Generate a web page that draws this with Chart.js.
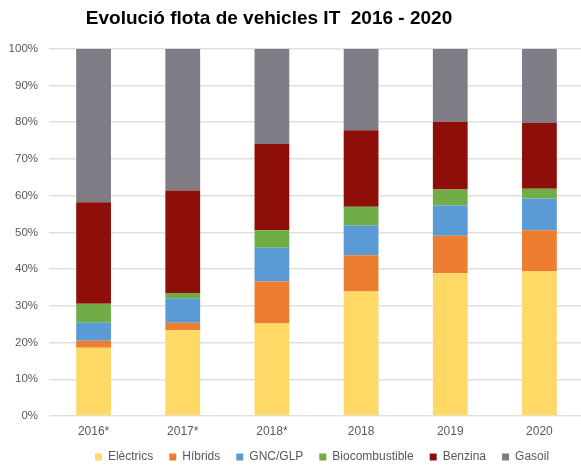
<!DOCTYPE html>
<html>
<head>
<meta charset="utf-8">
<script src="https://cdn.jsdelivr.net/npm/chart.js@4.4.1/dist/chart.umd.min.js"></script>
<style>
  html, body { margin: 0; padding: 0; background: #fff; overflow: hidden; }
  #wrap { position: relative; width: 585px; height: 466px; }
</style>
</head>
<body>
<div id="wrap"><canvas id="c" width="585" height="466"></canvas></div>
<script>
const categories = ['2016*', '2017*', '2018*', '2018', '2019', '2020'];
const seriesNames = ['Elèctrics', 'Híbrids', 'GNC/GLP', 'Biocombustible', 'Benzina', 'Gasoil'];
const electrics      = [18.6, 23.4, 25.2, 33.9, 38.9, 39.5];
const hibrids        = [1.9, 2.0, 11.4, 9.9, 10.2, 11.1];
const gnc            = [4.9, 6.5, 9.2, 8.1, 8.2, 8.6];
const biocombustible = [5.2, 1.6, 4.8, 5.1, 4.4, 2.7];
const benzina        = [27.6, 27.9, 23.5, 20.8, 18.4, 17.9];
const gasoil         = [41.8, 38.6, 25.9, 22.2, 19.9, 20.2];
const yTicks = [0, 10, 20, 30, 40, 50, 60, 70, 80, 90, 100];

const colors = ['#FFD966', '#ED7D31', '#5B9BD5', '#70AD47', '#8E0F0A', '#7F7C85'];
const seriesData = [electrics, hibrids, gnc, biocombustible, benzina, gasoil];

const FONT = "'Liberation Sans', Arial, Helvetica, sans-serif";
const TITLE_DX = -27;
const LEG_DX = 26;
const LEG_DY = -3;
const LEGEND_H = 28;

const layoutTweak = {
  id: 'layoutTweak',
  beforeLayout(chart) {
    const lg = chart.legend;
    if (lg && !lg._patched) {
      const fit = lg.fit.bind(lg);
      lg.fit = function () { fit(); this.height = LEGEND_H; };
      lg._patched = true;
    }
  },
  afterLayout(chart) {
    const t = chart.titleBlock;
    if (t) { t.left += TITLE_DX; t.right += TITLE_DX; }
    const lg = chart.legend;
    if (lg) {
      lg.left += LEG_DX; lg.right += LEG_DX;
      lg.top += LEG_DY; lg.bottom = chart.height;
    }
  }
};

new Chart(document.getElementById('c'), {
  type: 'bar',
  data: {
    labels: categories,
    datasets: seriesNames.map((n, i) => ({
      label: n,
      data: seriesData[i],
      backgroundColor: colors[i],
      borderWidth: 0,
      barPercentage: 0.39,
      categoryPercentage: 1.0
    }))
  },
  plugins: [layoutTweak],
  options: {
    responsive: false,
    animation: false,
    layout: { padding: { left: 8, right: 1, top: 0, bottom: 0 } },
    plugins: {
      title: {
        display: true,
        text: 'Evolució flota de vehicles IT  2016 - 2020',
        color: '#000',
        font: { family: FONT, size: 19, weight: 'bold', lineHeight: 1.2 },
        padding: { top: 7, bottom: 19 }
      },
      legend: {
        display: true,
        position: 'bottom',
        labels: {
          boxWidth: 7,
          boxHeight: 7,
          padding: 16,
          color: '#595959',
          font: { family: FONT, size: 12 }
        }
      },
      tooltip: { enabled: false }
    },
    scales: {
      x: {
        stacked: true,
        afterFit(scale) { scale.height = 22; },
        grid: { display: false, drawTicks: false },
        border: { display: false },
        ticks: { color: '#595959', font: { family: FONT, size: 12 }, padding: 8, maxRotation: 0 }
      },
      y: {
        stacked: true,
        min: 0,
        max: 100,
        afterFit(scale) { scale.width = 41; },
        afterBuildTicks(scale) { scale.ticks = yTicks.map(v => ({ value: v })); },
        grid: { color: '#e0e0e0', lineWidth: 1.5, drawTicks: false },
        border: { display: false },
        ticks: {
          color: '#595959',
          font: { family: FONT, size: 11.5 },
          padding: 11,
          callback: v => v + '%'
        }
      }
    }
  }
});
</script>
</body>
</html>
